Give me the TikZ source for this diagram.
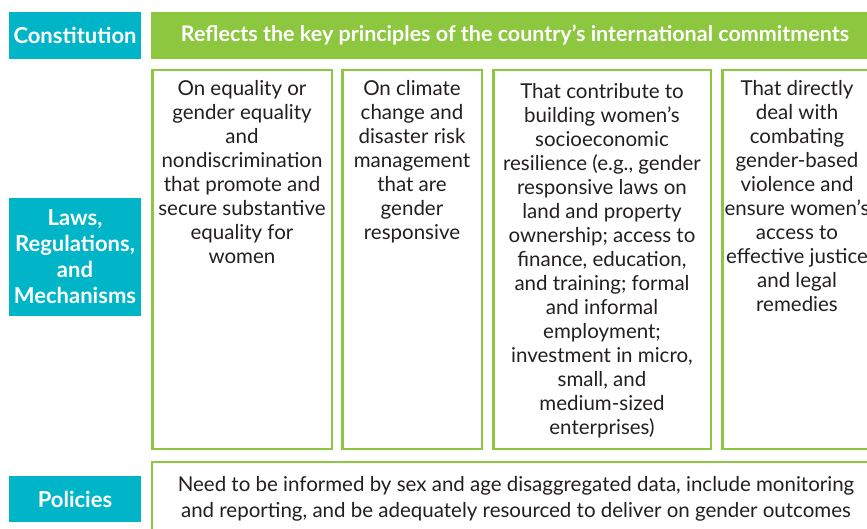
\documentclass[tikz,border=0pt]{standalone}
\usepackage{fontspec}
\setmainfont{Lato}
\definecolor{adbteal}{HTML}{00B5C8}
\definecolor{adbgreen}{HTML}{8DC63F}
\definecolor{txtgray}{HTML}{231F20}
\begin{document}
\begin{tikzpicture}[x=1pt,y=-1pt,
  tealbox/.style={fill=adbteal, text=white, font=\bfseries\fontsize{22}{26}\selectfont, align=center, inner sep=0pt},
  headbox/.style={fill=adbgreen, text=white, font=\bfseries\fontsize{21.5}{24}\selectfont, align=center, inner sep=0pt},
  greenbox/.style={draw=adbgreen, line width=2.5pt, fill=white, inner sep=0pt},
  bodytext/.style={text=txtgray, font=\fontsize{20.5}{24}\selectfont, align=center, inner sep=0pt, anchor=north}]
\useasboundingbox (0,0) rectangle (867,529);
\clip (0,0) rectangle (867,529);
% left labels
\node[tealbox, minimum width=132pt, minimum height=46.5pt] (const) at (75,35.3) {Constitution};
\node[tealbox, minimum width=132pt, minimum height=118pt] (laws) at (75,257) {Laws,\\Regulations,\\and\\Mechanisms};
\node[tealbox, minimum width=132pt, minimum height=46pt] (pol) at (75,499) {Policies};
% header
\node[headbox, minimum width=728pt, minimum height=46.5pt] (head) at (515,35.3) {Reflects the key principles of the country’s international commitments};
% boxes
\node[greenbox, minimum width=179.5pt, minimum height=378.5pt] (b1) at (242,259.5) {};
\node[greenbox, minimum width=139.5pt, minimum height=378.5pt] (b2) at (412,259.5) {};
\node[greenbox, minimum width=217.5pt, minimum height=378.5pt] (b3) at (602,259.5) {};
\node[greenbox, minimum width=149.5pt, minimum height=378.5pt] (b4) at (797,259.5) {};
\node[greenbox, minimum width=728pt, minimum height=78pt] (b5) at (516,501) {};
% texts
\node[bodytext] (t1) at (242,80.5) {On equality or\\gender equality\\and\\nondiscrimination\\that promote and\\secure substantive\\equality for\\women};
\node[bodytext] (t2) at (412,80.5) {On climate\\change and\\disaster risk\\management\\that are\\gender\\responsive};
\node[bodytext] (t3) at (602,83) {That contribute to\\building women’s\\socioeconomic\\resilience (e.g., gender\\responsive laws on\\land and property\\ownership; access to\\finance, education,\\and training; formal\\and informal\\employment;\\investment in micro,\\small, and\\medium-sized\\enterprises)};
\node[bodytext] (t4) at (797,80.5) {That directly\\deal with\\combating\\gender-based\\violence and\\ensure women’s\\access to\\effective justice\\and legal\\remedies};
\node[bodytext, font=\fontsize{20.5}{26}\selectfont] (t5) at (516,476) {Need to be informed by sex and age disaggregated data, include monitoring\\and reporting, and be adequately resourced to deliver on gender outcomes};
\end{tikzpicture}
\end{document}
